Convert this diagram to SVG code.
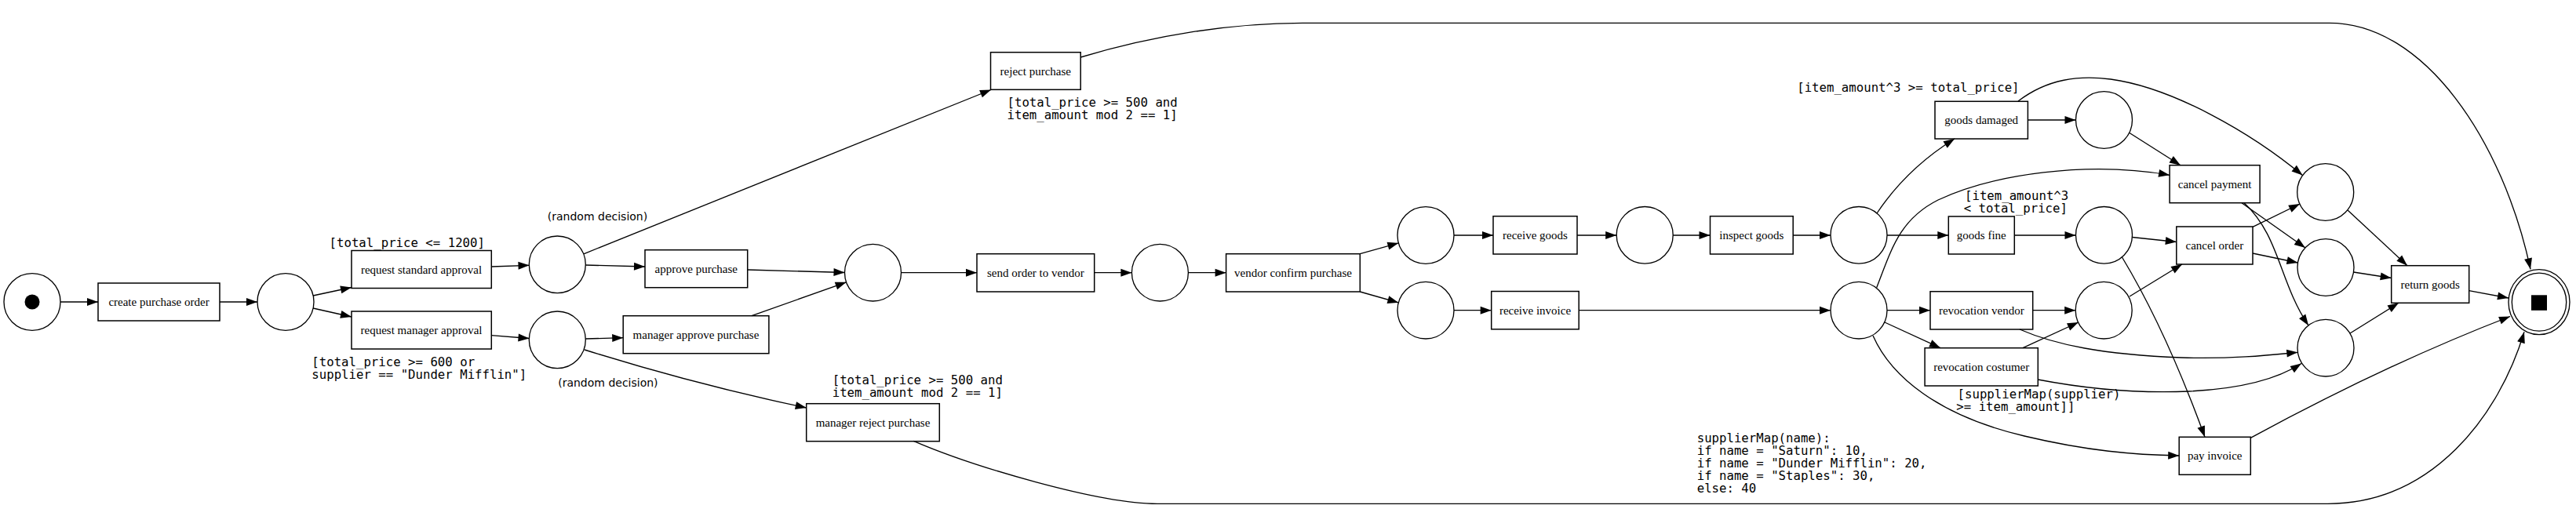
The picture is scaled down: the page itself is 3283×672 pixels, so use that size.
<svg xmlns="http://www.w3.org/2000/svg" width="3283" height="672" viewBox="0 0 3283 672">
<style>
.pl{fill:#fff;stroke:#000;stroke-width:1.33}
.tr{fill:#fff;stroke:#000;stroke-width:1.5}
.e{fill:none;stroke:#000;stroke-width:1.33;marker-end:url(#arr)}
.e0{fill:none;stroke:#000;stroke-width:1.33}
.t{font-family:"Liberation Serif","Times New Roman",serif;font-size:15px;text-anchor:middle;fill:#000}
.m{font-family:"DejaVu Sans Mono","Liberation Mono",monospace;font-size:15.7px;fill:#000}
.s{font-family:"DejaVu Sans","Liberation Sans",sans-serif;font-size:14px;fill:#000}
</style>
<defs>
<marker id="arr" markerUnits="userSpaceOnUse" markerWidth="15" markerHeight="11" refX="14" refY="5" orient="auto" overflow="visible">
<path d="M0,0 L14,5 L0,10 Z" fill="#000"/>
</marker>
</defs>
<rect width="3283" height="672" fill="#fff"/>

<g id="nodes">
<g id="p_start"><ellipse class="pl" cx="41" cy="385" rx="36" ry="36.3"/><ellipse cx="41" cy="385" rx="9.5" ry="9.5" fill="#000"/></g>
<g id="t_create"><rect class="tr" x="125" y="361" width="155" height="48"/><text class="t" x="202.5" y="390">create purchase order</text></g>
<g id="p1"><ellipse class="pl" cx="364" cy="385" rx="36" ry="36.3"/></g>
<g id="t_req_std"><rect class="tr" x="448" y="319.5" width="178.3" height="48"/><text class="t" x="537" y="348.5">request standard approval</text></g>
<g id="t_req_mgr"><rect class="tr" x="448" y="397" width="178.3" height="48"/><text class="t" x="537" y="426">request manager approval</text></g>
<g id="p2"><ellipse class="pl" cx="710.3" cy="337.3" rx="36" ry="36.3"/></g>
<g id="p3"><ellipse class="pl" cx="710.3" cy="433.3" rx="36" ry="36.3"/></g>
<g id="t_approve"><rect class="tr" x="822" y="318.7" width="130.7" height="48"/><text class="t" x="887.3" y="347.7">approve purchase</text></g>
<g id="t_mgr_approve"><rect class="tr" x="794.2" y="402.7" width="185.7" height="48"/><text class="t" x="887" y="431.7">manager approve purchase</text></g>
<g id="t_reject"><rect class="tr" x="1262.5" y="66.7" width="114.7" height="47.6"/><text class="t" x="1319.8" y="95.5">reject purchase</text></g>
<g id="t_mgr_reject"><rect class="tr" x="1027.7" y="514.7" width="169.6" height="48"/><text class="t" x="1112.5" y="543.7">manager reject purchase</text></g>
<g id="p4"><ellipse class="pl" cx="1112.5" cy="347.7" rx="36" ry="36.3"/></g>
<g id="t_send"><rect class="tr" x="1245" y="323.7" width="149.7" height="48.3"/><text class="t" x="1319.8" y="352.8">send order to vendor</text></g>
<g id="p5"><ellipse class="pl" cx="1478.4" cy="347.7" rx="36" ry="36.3"/></g>
<g id="t_vendor_confirm"><rect class="tr" x="1562.6" y="323.7" width="170.7" height="48.3"/><text class="t" x="1648" y="352.8">vendor confirm purchase</text></g>
<g id="p6"><ellipse class="pl" cx="1817" cy="300" rx="36" ry="36.3"/></g>
<g id="p7"><ellipse class="pl" cx="1817" cy="395.7" rx="36" ry="36.3"/></g>
<g id="t_recv_goods"><rect class="tr" x="1903" y="275.7" width="107" height="48.3"/><text class="t" x="1956.5" y="304.8">receive goods</text></g>
<g id="t_recv_invoice"><rect class="tr" x="1900.7" y="371.5" width="111.5" height="48.3"/><text class="t" x="1956.5" y="400.7">receive invoice</text></g>
<g id="p8"><ellipse class="pl" cx="2096.2" cy="299.8" rx="36" ry="36.3"/></g>
<g id="t_inspect"><rect class="tr" x="2179.5" y="275.7" width="105.7" height="48.3"/><text class="t" x="2232.4" y="304.8">inspect goods</text></g>
<g id="p9"><ellipse class="pl" cx="2369" cy="299.8" rx="36" ry="36.3"/></g>
<g id="p10"><ellipse class="pl" cx="2369" cy="395.7" rx="36" ry="36.3"/></g>
<g id="t_damaged"><rect class="tr" x="2466" y="129.3" width="118.4" height="47.7"/><text class="t" x="2525.2" y="158">goods damaged</text></g>
<g id="t_fine"><rect class="tr" x="2483.3" y="276" width="84" height="48"/><text class="t" x="2525.3" y="305">goods fine</text></g>
<g id="t_rev_vendor"><rect class="tr" x="2460" y="371.7" width="130.7" height="48.3"/><text class="t" x="2525.3" y="400.8">revocation vendor</text></g>
<g id="t_rev_costumer"><rect class="tr" x="2453.1" y="443.7" width="144.2" height="48.3"/><text class="t" x="2525.2" y="472.8">revocation costumer</text></g>
<g id="p11"><ellipse class="pl" cx="2681.5" cy="153" rx="36" ry="36.3"/></g>
<g id="p12"><ellipse class="pl" cx="2681.5" cy="299.8" rx="36" ry="36.3"/></g>
<g id="p13"><ellipse class="pl" cx="2681.2" cy="395.7" rx="36" ry="36.3"/></g>
<g id="t_cancel_payment"><rect class="tr" x="2765.1" y="210.7" width="115" height="48"/><text class="t" x="2822.6" y="239.7">cancel payment</text></g>
<g id="t_cancel_order"><rect class="tr" x="2773.8" y="289" width="97.2" height="48"/><text class="t" x="2822.4" y="318">cancel order</text></g>
<g id="t_pay_invoice"><rect class="tr" x="2777.2" y="557.3" width="91.1" height="48"/><text class="t" x="2822.7" y="586.3">pay invoice</text></g>
<g id="p14"><ellipse class="pl" cx="2963.7" cy="245" rx="36" ry="36.3"/></g>
<g id="p15"><ellipse class="pl" cx="2964" cy="341" rx="36" ry="36.3"/></g>
<g id="p16"><ellipse class="pl" cx="2964" cy="443.7" rx="36" ry="36.3"/></g>
<g id="t_return"><rect class="tr" x="3047.7" y="338.7" width="99" height="47.6"/><text class="t" x="3097.2" y="367.5">return goods</text></g>
<g id="p_end"><ellipse class="pl" cx="3236" cy="385.2" rx="39" ry="41.5"/><ellipse class="pl" cx="3236" cy="385.2" rx="34.7" ry="37"/><rect x="3226" y="376.3" width="20" height="19.5" fill="#000"/></g>
</g>

<g id="connectors">
<path class="e" d="M77,385 L125,385"/>
<path class="e" d="M280,385 L328,385"/>
<path class="e" d="M399,377 L448,366.5"/>
<path class="e" d="M399,393 L448,404"/>
<path class="e" d="M626.3,340 L674.5,338.3"/>
<path class="e" d="M626.3,427.7 L674.5,431.5"/>
<path class="e" d="M746.2,338 L822,340"/>
<path class="e" d="M743.8,323.8 L1263,114.5"/>
<path class="e" d="M746.2,432 L794.2,430.7"/>
<path class="e" d="M745,446 Q885,490 1027.7,520"/>
<path class="e" d="M952.7,344 L1076.5,347.5"/>
<path class="e" d="M958,402.7 L1078.6,359.8"/>
<path class="e" d="M1148.5,347.7 L1245,347.7"/>
<path class="e" d="M1394.7,347.7 L1442.4,347.7"/>
<path class="e" d="M1514.4,347.7 L1562.6,347.7"/>
<path class="e" d="M1733.3,323.7 L1782.4,309.9"/>
<path class="e" d="M1733.3,372 L1782.4,385.9"/>
<path class="e" d="M1853,300 L1903,300"/>
<path class="e" d="M1853,395.7 L1900.7,395.7"/>
<path class="e" d="M2010,300 L2060.2,300"/>
<path class="e" d="M2012.2,395.7 L2333,395.7"/>
<path class="e" d="M2132.2,300 L2179.5,300"/>
<path class="e" d="M2285.2,300 L2333,300"/>
<path class="e" d="M2392,272 Q2430,215 2491,177"/>
<path class="e" d="M2405,300 L2483.3,300"/>
<path class="e" d="M2405,395.7 L2460,395.7"/>
<path class="e" d="M2402,411 L2473,443.7"/>
<path class="e" d="M2391.7,366.7 C2410,320 2420,280 2470,255 C2540,222 2660,205 2765.1,223.3"/>
<path class="e" d="M2387,428 C2410,480 2470,530 2580,556 C2660,575 2720,580 2777.2,581"/>
<path class="e" d="M2584.4,153 L2645.5,153"/>
<path class="e" d="M2572,129 C2610,100 2650,96 2690,101 C2770,112 2870,170 2934.5,223.5"/>
<path class="e" d="M2567.3,300 L2645.5,300"/>
<path class="e" d="M2590.7,395.7 L2645.2,395.7"/>
<path class="e" d="M2574,420 C2620,440 2680,452 2780,456 C2850,458 2900,452 2928.3,449.3"/>
<path class="e" d="M2578,443.7 L2648.8,411"/>
<path class="e" d="M2597.3,484 C2660,496 2720,502 2790,499 C2850,496 2900,485 2933,463.5"/>
<path class="e" d="M2714,169.5 L2779,210.7"/>
<path class="e" d="M2717.5,302.5 L2773.8,308.5"/>
<path class="e" d="M2704.5,328 Q2760,420 2810,557.3"/>
<path class="e" d="M2714,378 L2781,337"/>
<path class="e" d="M2857,258.7 L2938,316"/>
<path class="e" d="M2860,258.7 C2905,300 2905,360 2942,415"/>
<path class="e" d="M2871,289.3 L2931,260"/>
<path class="e" d="M2871,323 L2928.5,335"/>
<path class="e" d="M2992,268 L3068,338.7"/>
<path class="e" d="M2999.5,347 L3047.7,354.5"/>
<path class="e" d="M2995,425 L3057,386.3"/>
<path class="e" d="M3146.7,370.7 L3197,380"/>
<path class="e" d="M2868.3,558.3 Q3040,465 3199,403.5"/>
<path class="e" d="M1377.2,73 C1470,45 1570,29.3 1660,29.3 L2968.7,29.3 C3090,29.3 3190,180 3225,343.3"/>
<path class="e" d="M1164.3,562.3 C1240,595 1400,642.3 1475,642.3 L2966.7,642.3 C3100,642.3 3185,530 3217,423.3"/>
</g>

<g id="labels">
<text class="m" x="419.6" y="315">[total_price &lt;= 1200]</text>
<text class="m" x="397.3" y="467">[total_price &gt;= 600 or</text>
<text class="m" x="397.3" y="483">supplier == "Dunder Mifflin"]</text>
<text class="s" x="697.8" y="280.5">(random decision)</text>
<text class="s" x="711.2" y="493">(random decision)</text>
<text class="m" x="1283.5" y="135.5">[total_price &gt;= 500 and</text>
<text class="m" x="1283.5" y="151.5">item_amount mod 2 == 1]</text>
<text class="m" x="1060.7" y="489.5">[total_price &gt;= 500 and</text>
<text class="m" x="1060.7" y="505.5">item_amount mod 2 == 1]</text>
<text class="m" x="2290.2" y="117">[item_amount^3 &gt;= total_price]</text>
<text class="m" x="2504" y="254.5">[item_amount^3</text>
<text class="m" x="2502.7" y="270.5">&lt; total_price]</text>
<text class="m" x="2494.6" y="507.5">[supplierMap(supplier)</text>
<text class="m" x="2493.3" y="523.5">&gt;= item_amount]]</text>
</g>

<g id="note">
<text class="m" x="2162.7" y="564">supplierMap(name):</text>
<text class="m" x="2162.7" y="580">if name = "Saturn": 10,</text>
<text class="m" x="2162.7" y="596">if name = "Dunder Mifflin": 20,</text>
<text class="m" x="2162.7" y="612">if name = "Staples": 30,</text>
<text class="m" x="2162.7" y="628">else: 40</text>
</g>
</svg>
